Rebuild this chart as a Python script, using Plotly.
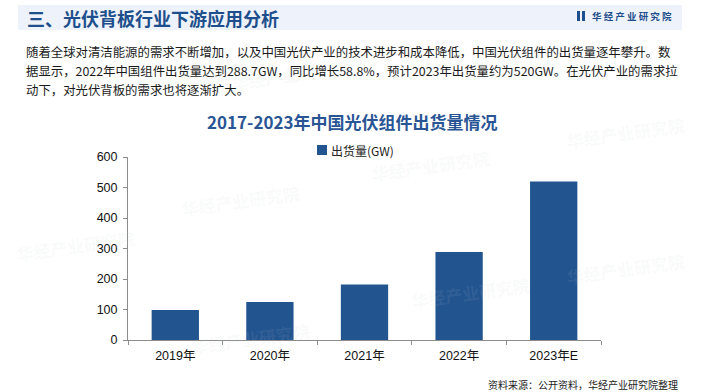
import plotly.graph_objects as go

categories = ["2019年", "2020年", "2021年", "2022年", "2023年E"]
shipments = [98.6, 124.6, 181.8, 288.7, 520.0]
series_name = "出货量(GW)"
y_ticks = [0, 100, 200, 300, 400, 500, 600]

header_title = "三、光伏背板行业下游应用分析"
logo_text = "华 经 产 业 研 究 院"
body_lines = [
    "随着全球对清洁能源的需求不断增加，以及中国光伏产业的技术进步和成本降低，中国光伏组件的出货量逐年攀升。数",
    "据显示，2022年中国组件出货量达到288.7GW，同比增长58.8%，预计2023年出货量约为520GW。在光伏产业的需求拉",
    "动下，对光伏背板的需求也将逐渐扩大。",
]
chart_title = "2017-2023年中国光伏组件出货量情况"
source_text = "资料来源：公开资料，华经产业研究院整理"

W, H = 704, 392
L, R, T, B = 128, 103, 157, 52
CJK = "Noto Sans CJK SC"
LAT = "Liberation Sans, Arial, Noto Sans CJK SC"
BAR = "#22548f"

fig = go.Figure()
fig.add_trace(go.Bar(x=categories, y=shipments, name=series_name,
                     marker=dict(color=BAR, line=dict(width=0)),
                     showlegend=False))

def px_x(px):
    return (px - L) / (W - L - R)

def px_y(py):
    return (H - B - py) / (H - T - B)

shapes = [
    dict(type="rect", xref="paper", yref="paper", x0=px_x(18), x1=px_x(682),
         y0=px_y(30), y1=px_y(5), fillcolor="#eef3fb", line=dict(width=0), layer="below"),
    dict(type="rect", xref="paper", yref="paper", x0=px_x(577), x1=px_x(580),
         y0=px_y(21), y1=px_y(11), fillcolor="#1f4e8c", line=dict(width=0)),
    dict(type="rect", xref="paper", yref="paper", x0=px_x(582), x1=px_x(585),
         y0=px_y(21), y1=px_y(11), fillcolor="#1f4e8c", line=dict(width=0)),
    # legend swatch
    dict(type="rect", xref="paper", yref="paper", x0=px_x(317), x1=px_x(327),
         y0=px_y(155), y1=px_y(145), fillcolor=BAR, line=dict(width=0)),
]

annotations = []
# faint watermarks
for (wx, wy) in [(290, 75), (240, 200), (75, 245), (430, 165), (250, 338), (470, 292), (625, 268), (625, 132)]:
    annotations.append(dict(text="华经产业研究院", x=px_x(wx), y=px_y(wy), xanchor="center",
                            yanchor="middle", textangle=-8,
                            font=dict(family=CJK, size=17, color="rgba(200,204,212,0.10)", weight="bold"),
                            showarrow=False, xref="paper", yref="paper"))

annotations += [
    dict(text=header_title, x=px_x(25), y=px_y(18), xanchor="left", yanchor="middle",
         font=dict(family=CJK, size=18, color="#1e4f8c", weight="bold"), showarrow=False,
         xref="paper", yref="paper"),
    dict(text=logo_text, x=px_x(590), y=px_y(16), xanchor="left", yanchor="middle",
         font=dict(family=CJK, size=9.5, color="#1f4e8c", weight="bold"), showarrow=False,
         xref="paper", yref="paper"),
    dict(text=chart_title, x=px_x(352), y=px_y(121), xanchor="center", yanchor="middle",
         font=dict(family=CJK, size=17, color="#2a5595", weight="bold"), showarrow=False,
         xref="paper", yref="paper"),
    dict(text=series_name, x=px_x(329), y=px_y(150), xanchor="left", yanchor="middle",
         font=dict(family=CJK, size=12, color="#222222"), showarrow=False,
         xref="paper", yref="paper"),
    dict(text=source_text, x=px_x(680), y=px_y(384), xanchor="right", yanchor="middle",
         font=dict(family=CJK, size=10, color="#222222"), showarrow=False,
         xref="paper", yref="paper"),
]
for i, line in enumerate(body_lines):
    annotations.append(dict(text=line, x=px_x(24), y=px_y(52 + 19 * i), xanchor="left",
                            yanchor="middle", font=dict(family=CJK, size=12.4, color="#1a1a1a"),
                            showarrow=False, xref="paper", yref="paper"))

fig.update_layout(
    width=W, height=H,
    margin=dict(l=L, r=R, t=T, b=B, autoexpand=False),
    paper_bgcolor="white", plot_bgcolor="white",
    bargap=0.5,
    shapes=shapes, annotations=annotations,
    showlegend=False,
    font=dict(family=LAT, size=12, color="#222222"),
)
fig.update_xaxes(type="category", showline=True, linecolor="#8c8c8c", linewidth=1,
                 ticks="outside", ticklen=4, tickcolor="#8c8c8c", tickson="boundaries",
                 ticklabelstandoff=4,
                 tickfont=dict(family=LAT, size=12.5, color="#111111"), showgrid=False)
fig.update_yaxes(range=[0, 600], tickvals=y_ticks, showline=True, linecolor="#8c8c8c",
                 linewidth=1, ticks="outside", ticklen=4, tickcolor="#8c8c8c",
                 ticklabelstandoff=3,
                 tickfont=dict(family=LAT, size=12.5, color="#111111"), showgrid=False,
                 zeroline=False)

post = ("document.body.style.margin='0';document.body.style.padding='0';"
        "document.documentElement.style.overflow='hidden';")
fig.write_html("out.html", post_script=post, config={"displayModeBar": False})
